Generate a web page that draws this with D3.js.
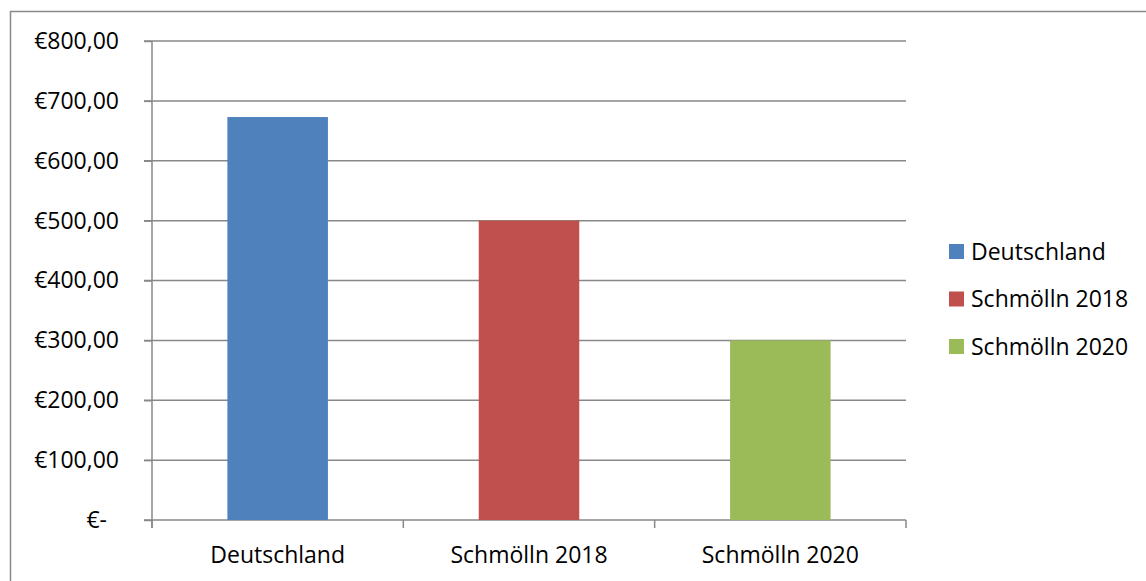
<!DOCTYPE html>
<html>
<head>
<meta charset="utf-8">
<script src="https://cdn.jsdelivr.net/npm/d3@7"></script>
<style>
	html, body { margin: 0; padding: 0; background: #fff; }
	svg { display: block; }
	text { font-family: 'Open Sans', sans-serif; font-size: 23px; fill: #000; }
</style>
</head>
<body>
<svg id="chart" width="1146" height="581"></svg>
<script>
/* jshint esversion:6 */
/* global d3 */

// data
let categories = ['Deutschland', 'Schmölln 2018', 'Schmölln 2020'],
	values = [673, 500, 300],
	colors = ['#4f81bd', '#c0504d', '#9bbb59'],
	yTicks = [0, 100, 200, 300, 400, 500, 600, 700, 800];

let svg = d3.select('#chart'),
	plot = {left: 152, right: 906, top: 41, bottom: 520},
	gridColor = '#888',
	de = d3.formatLocale({decimal: ',', thousands: '.', grouping: [3], currency: ['€', '']}),
	money = de.format('$,.2f'),
	x = d3.scaleBand()
		.domain(categories)
		.range([plot.left, plot.right])
		.paddingInner(0.6)
		.paddingOuter(0.3),
	y = d3.scaleLinear()
		.domain([0, 800])
		.range([plot.bottom, plot.top]),
	g;

// outer chart border (runs off the right and bottom edge)
svg.append('rect')
	.attr('x', 10.5)
	.attr('y', 11.5)
	.attr('width', 1200)
	.attr('height', 700)
	.attr('fill', 'none')
	.attr('stroke', gridColor)
	.attr('stroke-width', 1.5);

// gridlines
svg.append('g')
	.selectAll('line')
	.data(yTicks)
	.enter().append('line')
		.attr('x1', plot.left - 8)
		.attr('x2', plot.right)
		.attr('y1', function(d) { return y(d); })
		.attr('y2', function(d) { return y(d); })
		.attr('stroke', gridColor)
		.attr('stroke-width', 1.5);

// bars
svg.append('g')
	.selectAll('rect')
	.data(values)
	.enter().append('rect')
		.attr('x', function(d, i) { return x(categories[i]); })
		.attr('y', function(d) { return y(d); })
		.attr('width', x.bandwidth())
		.attr('height', function(d) { return y(0) - y(d); })
		.attr('fill', function(d, i) { return colors[i]; });

// y axis
g = svg.append('g')
	.attr('transform', 'translate(' + plot.left + ',0)')
	.call(d3.axisLeft(y)
		.tickValues(yTicks)
		.tickSize(8)
		.tickPadding(25)
		.tickFormat(function(d) { return d === 0 ? '€-' : money(d); }));
g.select('.domain').remove();
g.selectAll('line').attr('stroke', gridColor).attr('stroke-width', 1.5);
g.selectAll('text')
	.style('font-size', '23px')
	.style('font-family', "'Open Sans', sans-serif")
	.attr('fill', '#000')
	.attr('dx', function(d) { return d === 0 ? -12 : 0; });

// y axis line
svg.append('line')
	.attr('x1', plot.left)
	.attr('x2', plot.left)
	.attr('y1', plot.top)
	.attr('y2', plot.bottom + 8)
	.attr('stroke', gridColor)
	.attr('stroke-width', 1.5);

// category boundary ticks
svg.append('g')
	.selectAll('line')
	.data(d3.range(categories.length + 1))
	.enter().append('line')
		.attr('x1', function(i) { return plot.left + i * x.step(); })
		.attr('x2', function(i) { return plot.left + i * x.step(); })
		.attr('y1', plot.bottom)
		.attr('y2', plot.bottom + 8)
		.attr('stroke', gridColor)
		.attr('stroke-width', 1.5);

// x axis labels
g = svg.append('g')
	.attr('transform', 'translate(0,' + plot.bottom + ')')
	.call(d3.axisBottom(x).tickSize(0).tickPadding(27));
g.select('.domain').remove();
g.selectAll('text')
	.style('font-size', '23px')
	.style('font-family', "'Open Sans', sans-serif")
	.attr('fill', '#000');

// legend
let legend = svg.append('g')
	.selectAll('g')
	.data(categories)
	.enter().append('g')
		.attr('transform', function(d, i) { return 'translate(949,' + (251.5 + i * 47.5) + ')'; });

legend.append('rect')
	.attr('x', 0)
	.attr('y', -7.5)
	.attr('width', 15)
	.attr('height', 15)
	.attr('fill', function(d, i) { return colors[i]; });

legend.append('text')
	.attr('x', 22)
	.attr('dy', '0.35em')
	.text(function(d) { return d; });
</script>
</body>
</html>
